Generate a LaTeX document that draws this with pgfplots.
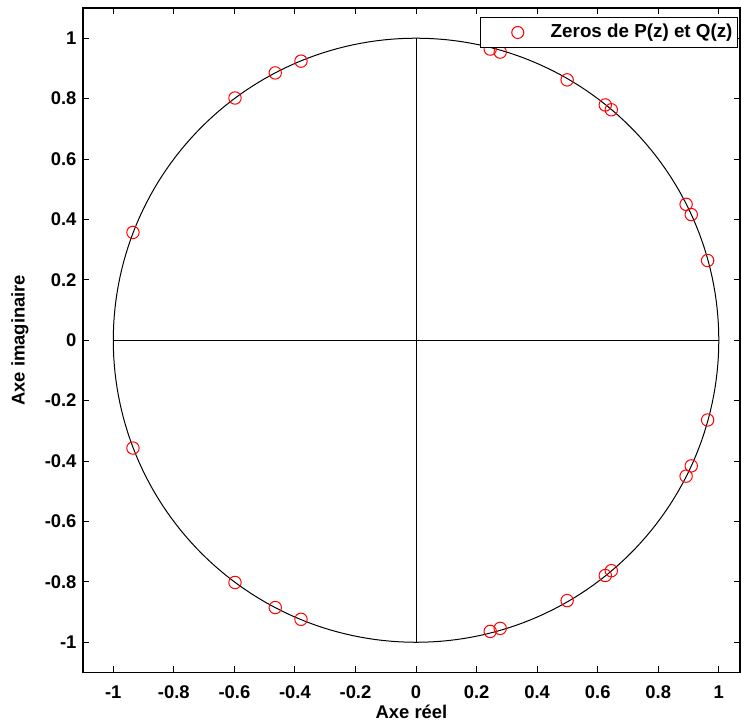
\documentclass[border=0pt]{standalone}
\usepackage{pgfplots}
\pgfplotsset{compat=1.18}
\usepackage{fontspec}
\setmainfont{Liberation Sans}
\begin{document}
\fontsize{9.2}{11}\selectfont\bfseries
\begin{tikzpicture}
\begin{axis}[
  scale only axis,
  width=328.5pt, height=332.25pt,
  xmin=-1.1, xmax=1.07, ymin=-1.1, ymax=1.1,
  xtick={-1,-0.8,...,1.01}, ytick={-1,-0.8,...,1.01},
  xticklabels={-1,-0.8,-0.6,-0.4,-0.2,0,0.2,0.4,0.6,0.8,1},
  yticklabels={-1,-0.8,-0.6,-0.4,-0.2,0,0.2,0.4,0.6,0.8,1},
  tick align=inside, tick style={black, line width=0.5pt},
  major tick length=3pt,
  axis line style={line width=0.7pt},
  ticklabel style={font=\fontsize{9.2}{11}\selectfont\bfseries},
  xticklabel style={yshift=-3.5pt},
  yticklabel style={xshift=0pt},
  xlabel={Axe réel}, ylabel={Axe imaginaire},
  label style={font=\fontsize{9.2}{11}\selectfont\bfseries},
  xlabel style={at={(axis description cs:0.5,-0.0587)}, anchor=center},
  ylabel style={at={(axis description cs:-0.0959,0.5)}, anchor=center},
  legend style={at={(1,1)}, anchor=north east, xshift=-1pt, yshift=-4.5pt,
    draw=black, line width=0.5pt, font=\fontsize{9.4}{11}\selectfont\bfseries,
    inner sep=0pt, nodes={inner sep=0pt}},
  legend cell align=left,
  legend image code/.code={\path[draw=none,fill=none] (0,-7.5pt) rectangle (35pt,7.5pt); \draw[#1] (18.5pt,0cm) circle (3pt);},
  clip=false,
]
\addplot[only marks, mark=o, mark size=3.1pt, red, mark options={line width=0.5pt}] coordinates {
(0.245,0.964) (0.278,0.954) (0.499,0.862) (0.625,0.779) (0.645,0.763)
(0.892,0.450) (0.909,0.416) (0.963,0.264)
(-0.935,0.357) (-0.598,0.802) (-0.465,0.885) (-0.380,0.924)
(0.245,-0.964) (0.278,-0.954) (0.499,-0.862) (0.625,-0.779) (0.645,-0.763)
(0.892,-0.450) (0.909,-0.416) (0.963,-0.264)
(-0.935,-0.357) (-0.598,-0.802) (-0.465,-0.885) (-0.380,-0.924)
};
\addlegendentry{Zeros de P(z) et Q(z)\rule{2.5pt}{0pt}}
\addplot[black, line width=0.5pt, domain=0:360, samples=241, forget plot] ({cos(x)},{sin(x)});
\addplot[black, line width=0.5pt, forget plot] coordinates {(-1,0) (1,0)};
\addplot[black, line width=0.5pt, forget plot] coordinates {(0,-1) (0,1)};
\end{axis}
\pgfresetboundingbox
\path ([shift={(-41.5pt,-24.75pt)}]current axis.south west) rectangle ([shift={(0.5pt,4pt)}]current axis.north east);
\end{tikzpicture}
\end{document}
